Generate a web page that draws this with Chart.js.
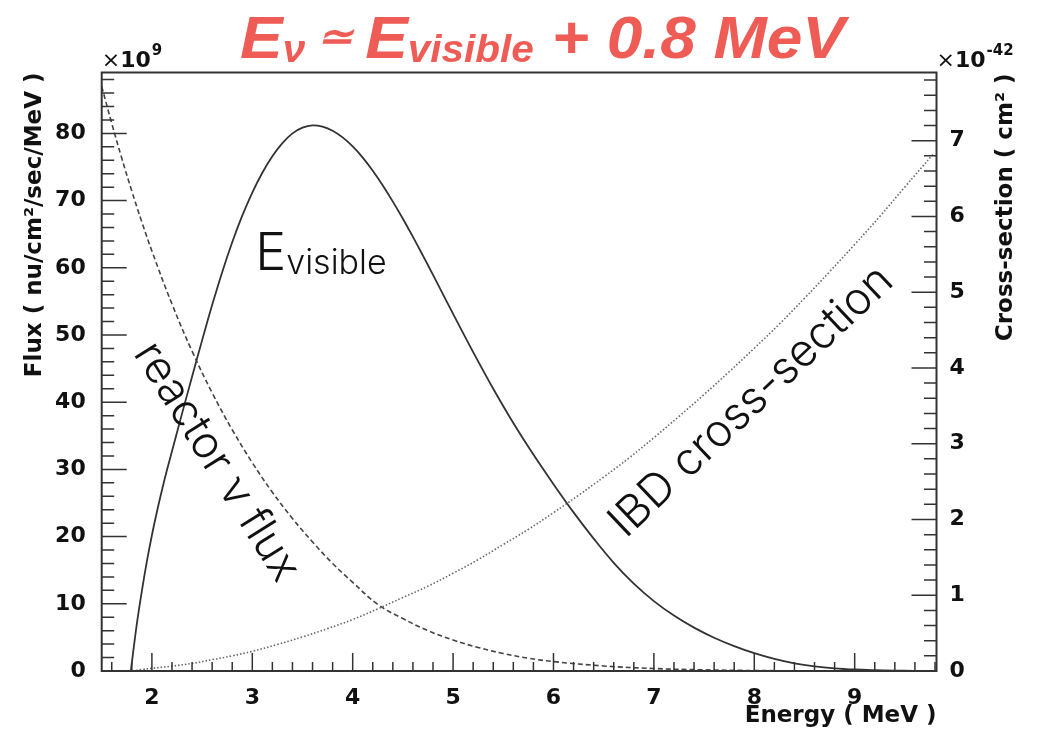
<!DOCTYPE html>
<html>
<head>
<meta charset="utf-8">
<title>Reactor antineutrino spectrum</title>
<script src="https://cdn.jsdelivr.net/npm/chart.js@4.4.1/dist/chart.umd.min.js"></script>
<style>
  html, body { margin: 0; padding: 0; background: #fff; }
  #wrap { width: 1045px; height: 732px; }
</style>
</head>
<body>
<div id="wrap"><canvas id="spectrum" width="1045" height="732"></canvas></div>
<script>
// reactor antineutrino flux (x1e9 nu/cm2/sec/MeV) vs energy (MeV)
const fluxEnergy = [1.50, 1.60, 1.70, 1.80, 1.90, 2.00, 2.20, 2.40, 2.60, 2.80, 3.00, 3.20, 3.40, 3.60, 3.80,
  4.00, 4.25, 4.50, 4.75, 5.00, 5.25, 5.50, 5.75, 6.00, 6.50, 7.00, 7.50, 8.00, 8.50, 9.00];
const reactorFlux = [87.0, 81.5, 76.3, 71.4, 66.8, 62.5, 54.6, 47.6, 41.4, 35.9, 31.0, 26.6, 22.7, 19.2, 16.0,
  13.2, 9.9, 7.8, 6.0, 4.6, 3.5, 2.6, 1.9, 1.4, 0.75, 0.37, 0.17, 0.07, 0.03, 0.01];

// inverse beta decay cross-section (x1e-42 cm2)
const xsecEnergy = [1.81, 1.90, 2.00, 2.20, 2.40, 2.60, 2.80, 3.00, 3.25, 3.50, 3.75, 4.00, 4.25, 4.50, 4.75,
  5.00, 5.25, 5.50, 5.75, 6.00, 6.25, 6.50, 6.75, 7.00, 7.25, 7.50, 7.75, 8.00, 8.25, 8.50, 8.75, 9.00,
  9.25, 9.50, 9.78];
const ibdXsec = [0, 0.02, 0.035, 0.065, 0.10, 0.15, 0.20, 0.26, 0.35, 0.45, 0.56, 0.68, 0.82, 0.97, 1.12,
  1.29, 1.47, 1.67, 1.87, 2.09, 2.32, 2.56, 2.81, 3.08, 3.36, 3.65, 3.95, 4.26, 4.58, 4.92, 5.27, 5.63,
  6.00, 6.39, 6.82];

// observed (visible) spectrum, flux times cross-section, on the flux axis
const visEnergy = [1.79, 1.85, 1.90, 1.95, 2.00, 2.05, 2.10, 2.15, 2.20, 2.30, 2.40, 2.50, 2.60, 2.70, 2.80,
  2.90, 3.00, 3.10, 3.20, 3.30, 3.40, 3.50, 3.60, 3.70, 3.80, 3.90, 4.00, 4.10, 4.20, 4.30, 4.40, 4.50,
  4.60, 4.70, 4.80, 4.90, 5.00, 5.20, 5.40, 5.60, 5.80, 6.00, 6.20, 6.40, 6.60, 6.80, 7.00, 7.20, 7.40,
  7.60, 7.80, 8.00, 8.20, 8.40, 8.60, 8.80, 9.00, 9.20, 9.40, 9.60, 9.80];
const visibleSpectrum = [0, 7.0, 11.9, 16.3, 20.2, 23.7, 26.9, 29.9, 32.7, 38.3, 43.8, 49.2, 54.45, 59.35, 63.8,
  67.75, 71.2, 74.15, 76.6, 78.55, 80.0, 80.85, 81.2, 81.0, 80.4, 79.4, 78.05, 76.4, 74.45, 72.25, 69.85, 67.3,
  64.6, 61.8, 58.95, 56.05, 53.15, 47.45, 42.0, 36.9, 32.2, 27.8, 23.6, 19.7, 16.1, 13.0, 10.4, 8.25, 6.45,
  4.95, 3.7, 2.65, 1.8, 1.15, 0.7, 0.4, 0.22, 0.12, 0.06, 0.03, 0.01];

const energyTicks = [2, 3, 4, 5, 6, 7, 8, 9];
const fluxTicks = [0, 10, 20, 30, 40, 50, 60, 70, 80];
const xsecTicks = [0, 1, 2, 3, 4, 5, 6, 7];

const energyRange = [1.5, 9.815];
const fluxRange = [0, 89.06];
const xsecRange = [0, 7.9];

const toPoints = (xs, ys) => xs.map((x, i) => ({ x: x, y: ys[i] }));

const AXIS_FONT = 'DejaVu Sans';
const LABEL_FONT = 'Inter, Lato, "Open Sans", sans-serif';
const TITLE_RED = '#ee5c55';

// ROOT style frame: box plus ticks pointing inwards, exponent labels, text annotations
const rootFrame = {
  id: 'rootFrame',
  afterDraw(chart) {
    const { ctx, chartArea: a, scales } = chart;
    const sx = scales.x, sy = scales.y, sy1 = scales.y1;
    ctx.save();

    // ticks
    ctx.strokeStyle = '#333';
    ctx.lineWidth = 1.5;
    ctx.beginPath();
    for (let i = 8; i / 5 <= energyRange[1]; i++) {
      const x = sx.getPixelForValue(i / 5);
      const len = i % 5 === 0 ? 18 : 9;
      ctx.moveTo(x, a.bottom);
      ctx.lineTo(x, a.bottom - len);
    }
    for (let v = 0; v <= fluxRange[1]; v += 2) {
      const y = sy.getPixelForValue(v);
      const len = v % 10 === 0 ? 25 : 12.5;
      ctx.moveTo(a.left, y);
      ctx.lineTo(a.left + len, y);
    }
    for (let i = 0; i / 5 <= xsecRange[1]; i++) {
      const y = sy1.getPixelForValue(i / 5);
      const len = i % 5 === 0 ? 25 : 12.5;
      ctx.moveTo(a.right, y);
      ctx.lineTo(a.right - len, y);
    }
    ctx.stroke();

    // frame
    ctx.lineWidth = 2;
    ctx.strokeRect(a.left, a.top, a.right - a.left, a.bottom - a.top);

    // exponents
    ctx.fillStyle = '#111';
    ctx.textBaseline = 'alphabetic';
    ctx.textAlign = 'left';
    const exponent = (x0, pow) => {
      let x = x0;
      ctx.font = '22px "' + AXIS_FONT + '"';
      ctx.fillText('\u00d7', x, 66.5);
      x += ctx.measureText('\u00d7').width;
      ctx.font = 'bold 22px "' + AXIS_FONT + '"';
      ctx.fillText('10', x, 66.5);
      x += ctx.measureText('10').width + 1;
      ctx.font = 'bold 15px "' + AXIS_FONT + '"';
      ctx.fillText(pow, x, 55);
    };
    exponent(a.left, '9');
    exponent(a.right, '-42');

    // right axis title, reading upwards
    ctx.save();
    ctx.translate(1012, a.top + 1);
    ctx.rotate(-Math.PI / 2);
    ctx.font = 'bold 23px "' + AXIS_FONT + '"';
    ctx.textAlign = 'right';
    ctx.fillText('Cross-section ( cm\u00b2 )', 0, 0);
    ctx.restore();

    // curve annotations
    ctx.fillStyle = '#111';
    const rotated = (text, e, f, deg, size) => {
      ctx.save();
      ctx.translate(sx.getPixelForValue(e), sy.getPixelForValue(f));
      ctx.rotate(deg * Math.PI / 180);
      ctx.font = '300 ' + size + 'px ' + LABEL_FONT;
      ctx.textAlign = 'left';
      ctx.fillText(text, 0, 0);
      ctx.restore();
    };
    rotated('reactor \u03bd flux', 1.81, 47.3, 58, 44.5);
    rotated('IBD cross-section', 6.72, 19.6, -43.5, 45);

    const ex = sx.getPixelForValue(3.03), ey = sy.getPixelForValue(59.6);
    ctx.font = '300 52px ' + LABEL_FONT;
    ctx.fillText('E', ex, ey);
    const ew = ctx.measureText('E').width;
    ctx.font = '300 34px ' + LABEL_FONT;
    ctx.fillText('visible', ex + ew, ey + 4);

    // headline: E_nu ~ E_visible + 0.8 MeV
    const runs = [
      { t: 'E', size: 60, dy: 0 },
      { t: '\u03bd', size: 38, dy: 4 },
      { t: ' \u2243 ', size: 40, dy: -8 },
      { t: 'E', size: 60, dy: 0 },
      { t: 'visible', size: 38, dy: 4 },
      { t: ' + 0.8 MeV', size: 60, dy: 0 }
    ];
    let total = 0;
    runs.forEach(r => {
      ctx.font = 'italic bold ' + r.size + 'px "Liberation Sans"';
      r.w = ctx.measureText(r.t).width;
      total += r.w;
    });
    ctx.save();
    ctx.translate(240, 58);
    ctx.scale(605 / total, 1);
    ctx.fillStyle = TITLE_RED;
    let tx = 0;
    runs.forEach(r => {
      ctx.font = 'italic bold ' + r.size + 'px "Liberation Sans"';
      ctx.fillText(r.t, tx, r.dy);
      tx += r.w;
    });
    ctx.restore();

    ctx.restore();
  }
};

new Chart(document.getElementById('spectrum'), {
  type: 'line',
  data: {
    datasets: [
      {
        label: 'reactor flux',
        data: toPoints(fluxEnergy, reactorFlux),
        yAxisID: 'y',
        borderColor: '#444',
        borderWidth: 1.6,
        borderDash: [5, 3]
      },
      {
        label: 'IBD cross-section',
        data: toPoints(xsecEnergy, ibdXsec),
        yAxisID: 'y1',
        borderColor: '#666',
        borderWidth: 1.6,
        borderDash: [1.5, 2]
      },
      {
        label: 'visible spectrum',
        data: toPoints(visEnergy, visibleSpectrum),
        yAxisID: 'y',
        borderColor: '#333',
        borderWidth: 1.8
      }
    ]
  },
  options: {
    responsive: false,
    animation: false,
    devicePixelRatio: 1,
    layout: { padding: { top: 72.5, left: 0, right: 0, bottom: 0 } },
    elements: {
      point: { radius: 0 },
      line: { fill: false, tension: 0.4 }
    },
    plugins: {
      legend: { display: false },
      tooltip: { enabled: false }
    },
    scales: {
      x: {
        type: 'linear',
        position: 'bottom',
        min: energyRange[0],
        max: energyRange[1],
        bounds: 'data',
        grid: { display: false },
        border: { display: false },
        ticks: {
          padding: 6,
          color: '#111',
          maxRotation: 0,
          autoSkip: false,
          font: { family: AXIS_FONT, weight: 'bold', size: 22 }
        },
        afterBuildTicks: s => { s.ticks = energyTicks.map(v => ({ value: v })); },
        afterFit: s => { s.height = 61; },
        title: {
          display: true,
          text: 'Energy ( MeV )',
          align: 'end',
          color: '#111',
          padding: { top: 0, bottom: 2 },
          font: { family: AXIS_FONT, weight: 'bold', size: 23 }
        }
      },
      y: {
        type: 'linear',
        position: 'left',
        min: fluxRange[0],
        max: fluxRange[1],
        bounds: 'data',
        grid: { display: false },
        border: { display: false },
        ticks: {
          padding: 8,
          color: '#111',
          autoSkip: false,
          font: { family: AXIS_FONT, weight: 'bold', size: 22 }
        },
        afterBuildTicks: s => { s.ticks = fluxTicks.map(v => ({ value: v })); },
        afterFit: s => { s.width = 101.7; },
        title: {
          display: true,
          text: 'Flux ( nu/cm\u00b2/sec/MeV )',
          align: 'end',
          color: '#111',
          padding: { top: 21.5, bottom: 0 },
          font: { family: AXIS_FONT, weight: 'bold', size: 23 }
        }
      },
      y1: {
        type: 'linear',
        position: 'right',
        min: xsecRange[0],
        max: xsecRange[1],
        bounds: 'data',
        grid: { display: false },
        border: { display: false },
        ticks: {
          padding: 5,
          color: '#111',
          autoSkip: false,
          font: { family: AXIS_FONT, weight: 'bold', size: 22 }
        },
        afterBuildTicks: s => { s.ticks = xsecTicks.map(v => ({ value: v })); },
        afterFit: s => { s.width = 108.5; }
      }
    }
  },
  plugins: [rootFrame]
});
</script>
</body>
</html>
